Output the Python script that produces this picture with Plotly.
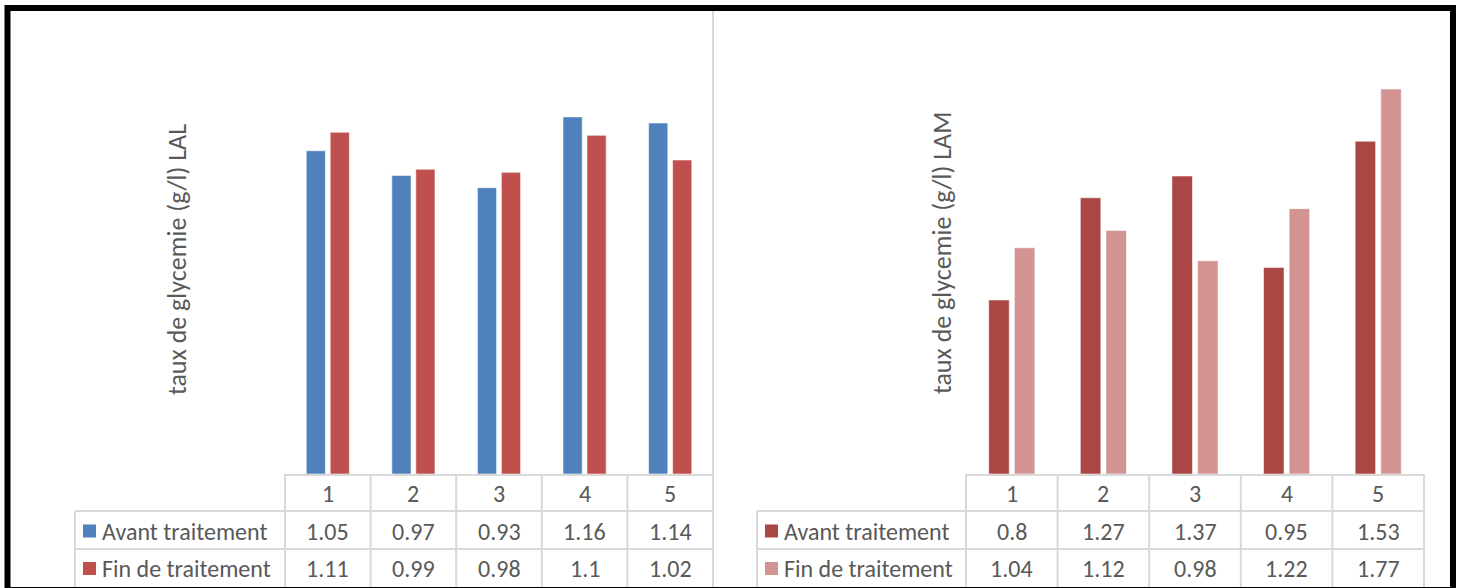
import plotly.graph_objects as go

# Data
categories = ["1", "2", "3", "4", "5"]
series_names = ["Avant traitement", "Fin de traitement"]
lal_avant = [1.05, 0.97, 0.93, 1.16, 1.14]
lal_fin = [1.11, 0.99, 0.98, 1.1, 1.02]
lam_avant = [0.8, 1.27, 1.37, 0.95, 1.53]
lam_fin = [1.04, 1.12, 0.98, 1.22, 1.77]

W, H = 1460, 588
FONT = "Carlito, Calibri, Lato, sans-serif"
TEXT = "#595959"
GRID = "#D9D9D9"

LAL_COLORS = ["#4F81BD", "#C0504D"]
LAM_COLORS = ["#AA4644", "#D39393"]


def X(px):
    return px / W


def Y(py):
    return 1 - py / H


fig = go.Figure()

for name, vals, col in zip(series_names, [lal_avant, lal_fin], LAL_COLORS):
    fig.add_trace(go.Bar(x=categories, y=vals, name=name, marker=dict(color=col, line=dict(color="rgba(255,255,255,0.55)", width=1)),
                         xaxis="x", yaxis="y", showlegend=False))
for name, vals, col in zip(series_names, [lam_avant, lam_fin], LAM_COLORS):
    fig.add_trace(go.Bar(x=categories, y=vals, name=name, marker=dict(color=col, line=dict(color="rgba(255,255,255,0.55)", width=1)),
                         xaxis="x2", yaxis="y2", showlegend=False))

# Panel geometry (pixels)
Y_HEAD = 474
Y_R1 = 511
Y_R2 = 549
Y_BOT = 588
panels = [
    dict(lab_x0=75, x0=285, x1=713, data=[lal_avant, lal_fin], colors=LAL_COLORS,
         title="taux de glycemie (g/l) LAL", title_x=177, title_y=260),
    dict(lab_x0=757, x0=966, x1=1424, data=[lam_avant, lam_fin], colors=LAM_COLORS,
         title="taux de glycemie (g/l) LAM", title_x=942, title_y=253),
]

axis_common = dict(showticklabels=False, ticks="", showgrid=False, zeroline=False, fixedrange=True)
fig.update_layout(
    xaxis=dict(domain=[X(285), X(713)], anchor="y", showline=True, linecolor=GRID, linewidth=2, **axis_common),
    yaxis=dict(domain=[Y(Y_HEAD), Y(43)], range=[0, 1.4], anchor="x", visible=False, showgrid=False),
    xaxis2=dict(domain=[X(966), X(1424)], anchor="y2", showline=True, linecolor=GRID, linewidth=2, **axis_common),
    yaxis2=dict(domain=[Y(Y_HEAD), Y(39)], range=[0, 2.0], anchor="x2", visible=False, showgrid=False),
)

shapes = []
annotations = []


def hline(x0, x1, y, color=GRID, width=2):
    shapes.append(dict(type="line", xref="paper", yref="paper", x0=X(x0), x1=X(x1), y0=Y(y), y1=Y(y),
                       line=dict(color=color, width=width)))


def vline(x, y0, y1, color=GRID, width=2):
    shapes.append(dict(type="line", xref="paper", yref="paper", x0=X(x), x1=X(x), y0=Y(y0), y1=Y(y1),
                       line=dict(color=color, width=width)))


def text(x, y, s, size=24, xanchor="center", angle=0):
    annotations.append(dict(xref="paper", yref="paper", x=X(x), y=Y(y), text=s, showarrow=False,
                            xanchor=xanchor, yanchor="middle", textangle=angle,
                            font=dict(family=FONT, size=size, color=TEXT)))


for p in panels:
    n = len(categories)
    cw = (p["x1"] - p["x0"]) / n
    # data table grid
    for i in range(n + 1):
        vline(p["x0"] + i * cw, Y_HEAD, Y_BOT)
    vline(p["lab_x0"], Y_R1, Y_BOT)
    hline(p["lab_x0"], p["x1"], Y_R1)
    hline(p["lab_x0"], p["x1"], Y_R2)
    # header row and values
    for i, c in enumerate(categories):
        cx = p["x0"] + (i + 0.5) * cw
        text(cx, (Y_HEAD + Y_R1) / 2 + 1, c)
        for r, vals in enumerate(p["data"]):
            yc = [(Y_R1 + Y_R2) / 2 + 1, (Y_R2 + Y_BOT) / 2 + 0][r]
            text(cx, yc, f"{vals[i]:g}")
    # row labels with legend keys
    for r, (name, col) in enumerate(zip(series_names, p["colors"])):
        yc = [(Y_R1 + Y_R2) / 2 + 1, (Y_R2 + Y_BOT) / 2][r]
        kx = p["lab_x0"] + 8
        shapes.append(dict(type="rect", xref="paper", yref="paper", x0=X(kx), x1=X(kx + 13),
                           y0=Y(yc + 6.5), y1=Y(yc - 6.5), fillcolor=col, line=dict(width=0)))
        text(kx + 17, yc, name, xanchor="left")
    # axis title
    text(p["title_x"], p["title_y"], p["title"], size=26, angle=-90)

# divider between the two charts
vline(713, 11, 588)
# outer frame
shapes.append(dict(type="rect", xref="paper", yref="paper", x0=X(7.5), x1=X(1453), y0=Y(590), y1=Y(8),
                   line=dict(color="black", width=6)))

fig.update_layout(
    width=W, height=H, margin=dict(l=0, r=0, t=0, b=0),
    paper_bgcolor="white", plot_bgcolor="white",
    barmode="group", bargap=0.44, bargroupgap=0.2,
    shapes=shapes, annotations=annotations, showlegend=False,
)

fig.write_html("out.html")
